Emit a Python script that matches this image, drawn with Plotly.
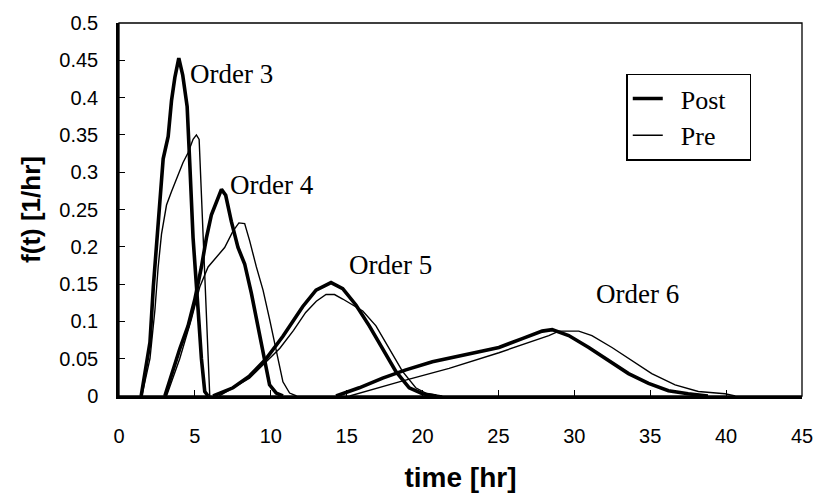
import plotly.graph_objects as go

# ---- data (time in hr, f(t) in 1/hr) ----
post3_t = [1.46, 1.82, 2.04, 2.26, 2.58, 2.91, 3.24, 3.46, 3.68, 3.94, 4.2, 4.49, 4.66, 4.88, 5.21, 5.43, 5.65, 5.87]
post3_f = [0.0, 0.041, 0.072, 0.146, 0.225, 0.318, 0.348, 0.396, 0.427, 0.453, 0.43, 0.388, 0.313, 0.212, 0.116, 0.05, 0.006, 0.0]
pre3_t = [1.5, 2.04, 2.37, 2.58, 2.8, 3.13, 3.46, 3.9, 4.22, 4.55, 4.88, 5.1, 5.28, 5.43, 5.65, 5.8, 5.98]
pre3_f = [0.0, 0.05, 0.116, 0.173, 0.217, 0.256, 0.274, 0.296, 0.313, 0.326, 0.344, 0.35, 0.344, 0.27, 0.16, 0.072, 0.0]

post4_t = [3.02, 3.46, 4.0, 4.55, 4.99, 5.43, 5.76, 6.09, 6.42, 6.75, 7.03, 7.4, 7.84, 8.28, 8.72, 9.15, 9.59, 9.92, 10.36, 10.8]
post4_f = [0.0, 0.028, 0.063, 0.094, 0.129, 0.173, 0.212, 0.243, 0.261, 0.277, 0.269, 0.234, 0.199, 0.177, 0.138, 0.094, 0.05, 0.015, 0.004, 0.0]
pre4_t = [3.13, 4.0, 4.77, 5.32, 5.87, 6.42, 6.96, 7.51, 7.9, 8.28, 8.61, 9.05, 9.49, 9.92, 10.36, 10.8, 11.24, 11.7]
pre4_f = [0.0, 0.05, 0.103, 0.146, 0.173, 0.186, 0.199, 0.221, 0.232, 0.231, 0.208, 0.173, 0.142, 0.103, 0.059, 0.019, 0.004, 0.0]

post5_t = [6.2, 7.51, 8.61, 9.7, 10.8, 11.24, 12.11, 12.98, 13.97, 14.74, 15.61, 16.49, 17.37, 18.24, 19.12, 20.0, 20.9]
post5_f = [0.0, 0.011, 0.027, 0.05, 0.08, 0.094, 0.12, 0.142, 0.152, 0.144, 0.122, 0.094, 0.063, 0.033, 0.011, 0.003, 0.0]
pre5_t = [6.6, 8.6, 10.6, 11.5, 12.3, 13.0, 13.64, 14.2, 14.74, 15.5, 16.06, 16.93, 17.8, 18.68, 19.55, 20.3, 21.3]
pre5_f = [0.0, 0.024, 0.064, 0.088, 0.112, 0.127, 0.136, 0.136, 0.13, 0.121, 0.114, 0.094, 0.063, 0.033, 0.011, 0.003, 0.0]

post6_t = [14.3, 15.83, 17.37, 18.9, 20.65, 22.84, 25.03, 26.57, 27.88, 28.54, 29.63, 30.95, 32.26, 33.57, 34.89, 36.2, 37.5, 38.8]
post6_f = [0.0, 0.011, 0.024, 0.035, 0.046, 0.055, 0.065, 0.077, 0.087, 0.089, 0.081, 0.065, 0.048, 0.03, 0.017, 0.007, 0.003, 0.0]
pre6_t = [15.2, 18.46, 21.75, 25.03, 28.32, 28.98, 30.29, 31.16, 32.48, 33.79, 35.1, 36.64, 38.17, 39.93, 40.6]
pre6_f = [0.0, 0.019, 0.037, 0.058, 0.081, 0.087, 0.087, 0.081, 0.065, 0.048, 0.03, 0.015, 0.006, 0.003, 0.0]

order_labels = ["Order 3", "Order 4", "Order 5", "Order 6"]
label_t = [7.42, 10.05, 17.87, 34.17]
label_f = [0.432, 0.283, 0.176, 0.137]

series_names = ["Post", "Pre"]

x_ticks = [0, 5, 10, 15, 20, 25, 30, 35, 40, 45]
y_ticks = [0, 0.05, 0.1, 0.15, 0.2, 0.25, 0.3, 0.35, 0.4, 0.45, 0.5]

THICK = 3.6
THIN = 1.4
NB = "\u00a0"

fig = go.Figure()
posts = [(post3_t, post3_f), (post4_t, post4_f), (post5_t, post5_f), (post6_t, post6_f)]
pres = [(pre3_t, pre3_f), (pre4_t, pre4_f), (pre5_t, pre5_f), (pre6_t, pre6_f)]
for i, (t, f) in enumerate(posts):
    fig.add_trace(go.Scatter(x=t, y=f, mode="lines", name=NB * 2 + series_names[0] + NB * 3,
                             line=dict(color="black", width=THICK),
                             showlegend=(i == 0), legendgroup="post"))
for i, (t, f) in enumerate(pres):
    fig.add_trace(go.Scatter(x=t, y=f, mode="lines", name=NB * 2 + series_names[1],
                             line=dict(color="black", width=THIN),
                             showlegend=(i == 0), legendgroup="pre"))

for txt, t, f in zip(order_labels, label_t, label_f):
    fig.add_annotation(x=t, y=f, text=txt, showarrow=False,
                       font=dict(family="Liberation Serif", size=27, color="black"),
                       xanchor="center", yanchor="middle")

# thin box on top/right of plot area
fig.add_shape(type="rect", xref="x domain", yref="y domain", x0=0, x1=1, y0=0, y1=1,
              line=dict(color="black", width=1.3), layer="above")

fig.update_layout(
    width=825, height=500,
    margin=dict(l=119, r=21, t=18, b=102),
    paper_bgcolor="white", plot_bgcolor="white",
    showlegend=True,
    legend=dict(x=0.743, y=0.864, xanchor="left", yanchor="top",
                bordercolor="black", borderwidth=1.3, bgcolor="white",
                font=dict(family="Liberation Serif", size=26, color="black"),
                tracegroupgap=0, itemwidth=30),
    font=dict(family="Liberation Sans", color="black"),
)
fig.update_xaxes(range=[0, 45], tickvals=x_ticks, ticktext=[str(v) for v in x_ticks],
                 ticks="inside", ticklen=6, tickwidth=1, tickcolor="black",
                 showline=True, linecolor="black", linewidth=2.5, mirror=False,
                 showgrid=False, zeroline=False,
                 tickfont=dict(family="Liberation Sans", size=20, color="black"),
                 ticklabelstandoff=20,
                 title=dict(text="<b>time [hr]</b>", standoff=22,
                            font=dict(family="Liberation Sans", size=28, color="black")))
fig.update_yaxes(range=[0, 0.5], tickvals=y_ticks, ticktext=[f"{v:g}" for v in y_ticks],
                 ticks="inside", ticklen=6, tickwidth=1, tickcolor="black",
                 showline=True, linecolor="black", linewidth=2.5, mirror=False,
                 showgrid=False, zeroline=False,
                 tickfont=dict(family="Liberation Sans", size=20, color="black"),
                 ticklabelstandoff=14,
                 title=dict(text="<b>f(t) [1/hr]</b>", standoff=12,
                            font=dict(family="Liberation Sans", size=26, color="black")))

fig.write_html("out.html")
